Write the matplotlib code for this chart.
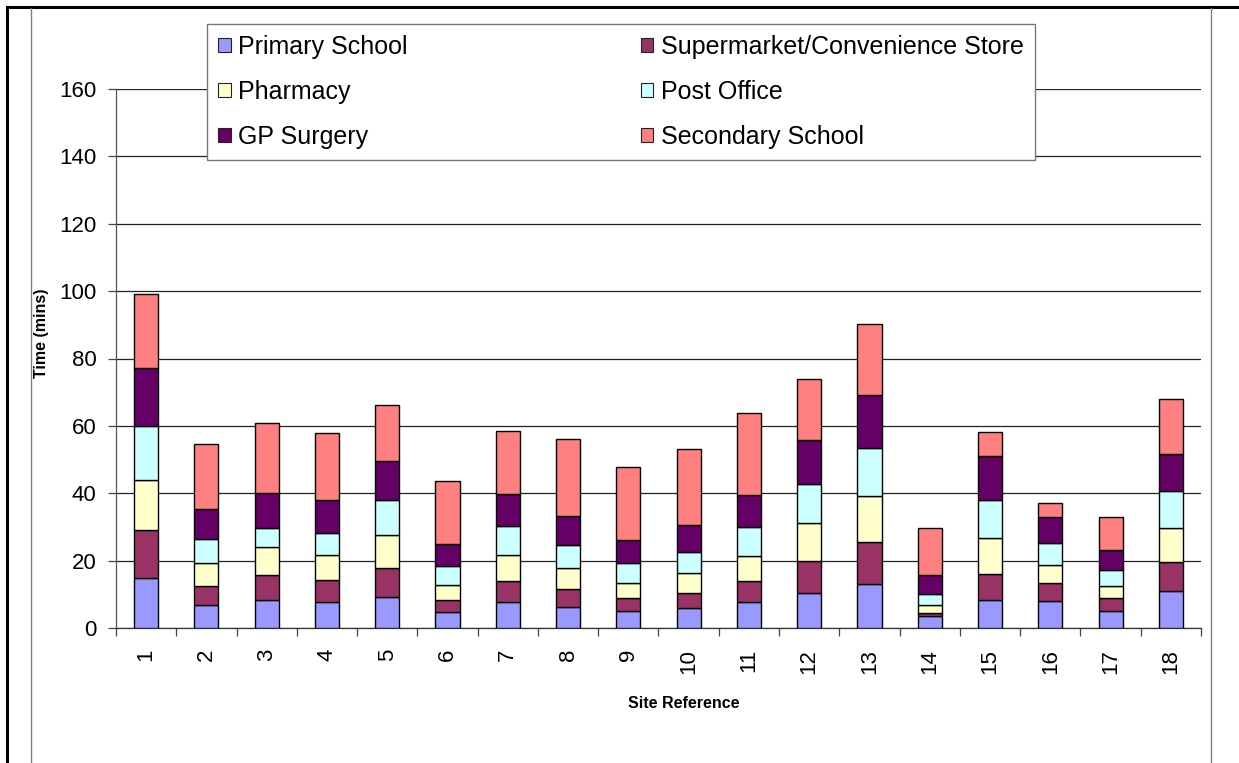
import matplotlib
matplotlib.use('Agg')
import matplotlib.pyplot as plt
from matplotlib.lines import Line2D
from matplotlib.patches import Patch
import numpy as np

plt.rcParams['font.family'] = ['Liberation Sans', 'DejaVu Sans']

sites = [str(i) for i in range(1, 19)]
primary = [14.8, 6.8, 8.4, 7.7, 9.2, 4.7, 7.7, 6.2, 5.0, 5.8, 7.7, 10.4, 13.1, 3.6, 8.2, 7.9, 4.9, 10.9]
supermarket = [14.2, 5.8, 7.3, 6.5, 8.7, 3.5, 6.4, 5.4, 3.8, 4.6, 6.3, 9.6, 12.3, 1.0, 7.8, 5.5, 3.9, 8.8]
pharmacy = [15.0, 6.7, 8.2, 7.6, 9.7, 4.6, 7.6, 6.2, 4.7, 5.8, 7.5, 11.2, 13.9, 2.2, 10.7, 5.3, 3.8, 10.1]
post_office = [16.0, 7.0, 5.9, 6.4, 10.3, 5.5, 8.5, 6.9, 5.7, 6.5, 8.4, 11.4, 14.1, 3.3, 11.2, 6.4, 4.6, 10.8]
gp_surgery = [17.3, 9.0, 10.4, 9.8, 11.8, 6.5, 9.7, 8.4, 7.0, 7.9, 9.6, 13.1, 15.7, 5.5, 13.2, 7.9, 6.1, 11.0]
secondary = [21.9, 19.2, 20.6, 20.0, 16.6, 18.7, 18.7, 23.1, 21.6, 22.5, 24.3, 18.3, 21.1, 14.0, 7.1, 4.0, 9.6, 16.3]

series_names = ['Primary School', 'Supermarket/Convenience Store', 'Pharmacy',
                'Post Office', 'GP Surgery', 'Secondary School']
series_values = [primary, supermarket, pharmacy, post_office, gp_surgery, secondary]
colors = ['#9999FF', '#993366', '#FFFFCC', '#CCFFFF', '#660066', '#FF8080']
y_ticks = [0, 20, 40, 60, 80, 100, 120, 140, 160]

W, H = 1239, 763
fig = plt.figure(figsize=(W / 100, H / 100), dpi=100)
fig.patch.set_facecolor('white')

ax = fig.add_axes([116 / W, (H - 628) / H, (1201 - 116) / W, (628 - 89) / H])
x = np.arange(1, len(sites) + 1)
bottom = np.zeros(len(sites))
handles = []
for name, vals, c in zip(series_names, series_values, colors):
    v = np.array(vals)
    ax.bar(x, v, width=0.4, bottom=bottom, color=c, edgecolor='black',
           linewidth=1.0, zorder=3, label=name)
    bottom += v
    handles.append(Patch(facecolor=c, edgecolor='#222222', linewidth=0.8, label=name))

ax.set_xlim(0.5, len(sites) + 0.5)
ax.set_ylim(0, 160)
ax.set_yticks(y_ticks)
ax.set_yticklabels([str(t) for t in y_ticks], fontsize=16)
ax.yaxis.grid(True, color='#222222', linewidth=0.9, zorder=0)
ax.set_axisbelow(True)
ax.tick_params(axis='y', direction='out', length=6, width=0.9, color='#444444', pad=8)

ax.set_xticks(x)
ax.set_xticklabels(sites, rotation=90, fontsize=16)
ax.tick_params(axis='x', which='major', length=0, pad=15)
ax.set_xticks(np.arange(0.5, len(sites) + 1, 1.0), minor=True)
ax.tick_params(axis='x', which='minor', direction='out', length=6, width=0.9, color='#444444')

for s in ['top', 'right']:
    ax.spines[s].set_visible(False)
ax.spines['left'].set_color('#555555')
ax.spines['bottom'].set_color('#333333')
ax.spines['left'].set_linewidth(0.9)
ax.spines['bottom'].set_linewidth(0.9)

ax.set_ylabel('Time (mins)', fontsize=11.5, fontweight='bold')
ax.yaxis.set_label_coords((49 - 116) / (1201 - 116), (628 - 333) / (628 - 89))
fig.text(684 / W, 1 - 703 / H, 'Site Reference', fontsize=11.5, fontweight='bold',
         ha='center', va='center')

order = [0, 2, 4, 1, 3, 5]
leg = fig.legend([handles[i] for i in order], [series_names[i] for i in order],
                 ncol=2, loc='upper left',
                 bbox_to_anchor=(207 / W, 1 - 157 / H, (1035 - 207) / W, (157 - 24) / H),
                 mode='expand', fontsize=18, frameon=True, fancybox=False,
                 edgecolor='#777777', framealpha=1.0, borderpad=0.45,
                 labelspacing=0.84, handlelength=0.5, handleheight=0.5,
                 handletextpad=0.3, borderaxespad=0.0)
leg.get_frame().set_linewidth(1.0)

# outer frame lines
def fl(xs, ys, **kw):
    fig.add_artist(Line2D([v / W for v in xs], [1 - v / H for v in ys],
                          transform=fig.transFigure, **kw))

fl([7, W], [7, 7], color='black', linewidth=2.2)
fl([7, 7], [7, H], color='black', linewidth=2.2)
fl([31, 31], [8, H], color='#808080', linewidth=1.0)
fl([1211, 1211], [8, H], color='#808080', linewidth=1.0)

fig.savefig('out.png', dpi=100)
